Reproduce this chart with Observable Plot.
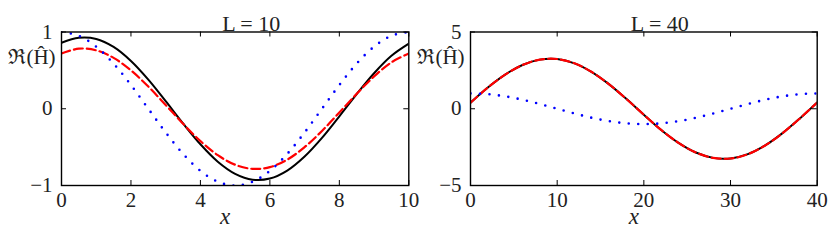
<!DOCTYPE html>
<html><head><meta charset="utf-8">
<script src="https://cdn.jsdelivr.net/npm/d3@7"></script>
<script src="https://cdn.jsdelivr.net/npm/@observablehq/plot@0.6"></script>
<style>
html,body{margin:0;padding:0;background:#fff;}
#wrap{position:relative;width:831px;height:247px;overflow:hidden;background:#fff;}
#wrap svg{position:absolute;top:0;overflow:visible;max-width:none;}
</style></head><body><div id="wrap"></div>
<script>
// ---- Panel L = 10 ----
const titleA = "L = 10";
const xA = [0,0.5,1,1.5,2,2.5,3,3.5,4,4.5,5,5.5,6,6.5,7,7.5,8,8.5,9,9.5,10];
const blackA = [0.86,0.925,0.91,0.806,0.623,0.38,0.099,-0.191,-0.463,-0.69,-0.848,-0.925,-0.91,-0.806,-0.623,-0.38,-0.099,0.191,0.463,0.69,0.848];
const redA = [0.72,0.783,0.761,0.663,0.5,0.289,0.049,-0.195,-0.421,-0.605,-0.73,-0.783,-0.761,-0.663,-0.5,-0.289,-0.049,0.195,0.421,0.605,0.72];
const blueA = [1.0,0.951,0.809,0.588,0.309,0.0,-0.309,-0.588,-0.809,-0.951,-1.0,-0.951,-0.809,-0.588,-0.309,0.0,0.309,0.588,0.809,0.951,1.0];
const xTicksA = [0,2,4,6,8,10];
const yTicksA = [-1,0,1];

// ---- Panel L = 40 ----
const titleB = "L = 40";
const xB = [0,2,4,6,8,10,12,14,16,18,20,22,24,26,28,30,32,34,36,38,40];
const blackB = [0.39,1.38,2.22,2.85,3.2,3.24,2.96,2.39,1.59,0.63,-0.39,-1.38,-2.22,-2.85,-3.2,-3.24,-2.96,-2.39,-1.59,-0.63,0.41];
const redB = [0.39,1.38,2.22,2.85,3.2,3.24,2.96,2.39,1.59,0.63,-0.39,-1.38,-2.22,-2.85,-3.2,-3.24,-2.96,-2.39,-1.59,-0.63,0.41];
const blueB = [1.0,0.951,0.809,0.588,0.309,0.0,-0.309,-0.588,-0.809,-0.951,-1.0,-0.951,-0.809,-0.588,-0.309,0.0,0.309,0.588,0.809,0.951,1.0];
const xTicksB = [0,10,20,30,40];
const yTicksB = [-5,0,5];

const yLabel = "ℜ(Ĥ)";
const xLabel = "x";

const fmt = d => (d < 0 ? "\u2212" + (-d) : String(d));

function panel(o) {
  const H = 247, mT = 31.5, mB = 62;
  const fH = H - mT - mB, fW = o.width - o.marginLeft - o.marginRight;
  const rows = o.xs.map((x, i) => ({x, black: o.black[i], red: o.red[i], blue: o.blue[i]}));
  const svg = Plot.plot({
    width: o.width, height: H,
    marginTop: mT, marginBottom: mB, marginLeft: o.marginLeft, marginRight: o.marginRight,
    style: "font-family: 'Liberation Serif', 'DejaVu Serif', serif; font-size: 21px; color: #222; background: transparent; overflow: visible;",
    x: {domain: o.xDomain},
    y: {domain: o.yDomain},
    marks: [
      Plot.lineY(rows, {x: "x", y: "black", stroke: "#000", strokeWidth: 2, curve: "catmull-rom", clip: true}),
      Plot.lineY(rows, {x: "x", y: "red", stroke: "#f00", strokeWidth: 2.2, strokeDasharray: "9,4", curve: "catmull-rom", clip: true}),
      Plot.lineY(rows, {x: "x", y: "blue", stroke: "#0000ff", strokeWidth: 2.6, strokeDasharray: "0,9.5", strokeLinecap: "round", curve: "catmull-rom", clip: true}),
      Plot.ruleX(o.xTicks, {x: d => d, insetTop: fH - 5, stroke: "#000", strokeWidth: 1}),
      Plot.ruleX(o.xTicks, {x: d => d, insetBottom: fH - 5, stroke: "#000", strokeWidth: 1}),
      Plot.ruleY(o.yTicks, {y: d => d, insetRight: fW - 5, stroke: "#000", strokeWidth: 1}),
      Plot.ruleY(o.yTicks, {y: d => d, insetLeft: fW - 5, stroke: "#000", strokeWidth: 1}),
      Plot.frame({stroke: "#000", strokeWidth: 1.4}),
      Plot.axisX(o.xTicks, {tickSize: 0, tickPadding: 7, label: null, fontSize: 21, tickFormat: fmt, fill: "#222"}),
      Plot.axisY(o.yTicks, {tickSize: 0, tickPadding: 9, label: null, fontSize: 21, tickFormat: fmt, fill: "#222"}),
      Plot.text([o.title], {frameAnchor: "top", text: d => d, dx: 16, dy: -17, fontSize: 22, fill: "#222", ariaLabel: "ptitle"}),
      Plot.text([yLabel], {frameAnchor: "top-left", text: d => d, dx: -29.5, dy: 17, textAnchor: "middle", fontSize: 21, fill: "#222", ariaLabel: "plabel"}),
      Plot.text([xLabel], {frameAnchor: "bottom", text: d => d, dx: -10, dy: 38.5, fontSize: 23, fontStyle: "italic", fill: "#222"})
    ]
  });
  svg.style.left = o.left + "px";
  const ns = "http://www.w3.org/2000/svg";
  const rich = (sel, parts) => {
    const t = svg.querySelector(sel);
    if (!t) return;
    t.textContent = "";
    for (const [s, it] of parts) {
      const sp = document.createElementNS(ns, "tspan");
      if (it) sp.setAttribute("font-style", "italic");
      sp.textContent = s;
      t.appendChild(sp);
    }
  };
  const [tL, ...tRest] = o.title.split(" ");
  rich('g[aria-label="ptitle"] text', [[tL, true], [" " + tRest.join(" "), false]]);
  rich('g[aria-label="plabel"] text', [[yLabel.slice(0, 2), false], [yLabel.slice(2, 3), true], [yLabel.slice(3), false]]);
  return svg;
}

const wrap = document.getElementById("wrap");
wrap.appendChild(panel({xs: xA, black: blackA, red: redA, blue: blueA, xDomain: [0, 10], yDomain: [-1, 1], xTicks: xTicksA, yTicks: yTicksA, title: titleA, width: 415, left: 0, marginLeft: 61, marginRight: 6.7}));
wrap.appendChild(panel({xs: xB, black: blackB, red: redB, blue: blueB, xDomain: [0, 40], yDomain: [-5, 5], xTicks: xTicksB, yTicks: yTicksB, title: titleB, width: 416, left: 415, marginLeft: 55, marginRight: 14.3}));
</script></body></html>
